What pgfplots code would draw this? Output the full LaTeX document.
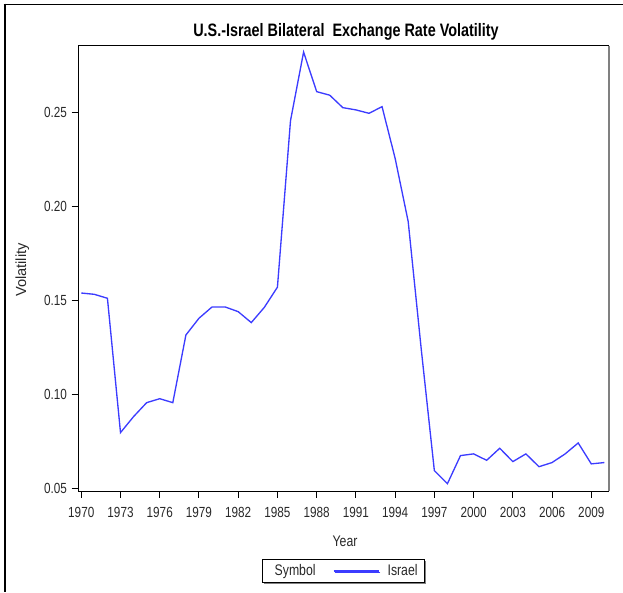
\documentclass[border=0pt]{standalone}
\usepackage{fontspec}
\setmainfont{Liberation Sans}[FakeStretch=0.8]
\newfontfamily\plainsans{Liberation Sans}
\usepackage{pgfplots}
\pgfplotsset{compat=1.18}
\usetikzlibrary{shadows}
\definecolor{lineblue}{RGB}{60,60,255}
\definecolor{txt}{RGB}{40,40,40}
\begin{document}
\begin{tikzpicture}[x=1pt,y=1pt]
\useasboundingbox (0,0) rectangle (467.25,444);
\draw[line width=0.8pt] (2.8,440.8) -- (467.25,440.8);
\draw[line width=1.5pt] (3.5,441.2) -- (3.5,0);
\node[anchor=base, font=\bfseries\fontsize{13.5}{15}\selectfont] at (259.5,416.5) {U.S.-Israel Bilateral\ \ Exchange Rate Volatility};
\node[rotate=90, anchor=center, text=txt, font=\plainsans\fontsize{11}{12}\selectfont] at (16.8,241.5) {Volatility};
\node[anchor=base, text=txt, font=\fontsize{11.5}{12}\selectfont] at (258.8,34.5) {Year};
\begin{axis}[
  at={(58.7pt,75.75pt)}, anchor=south west,
  scale only axis, width=397.8pt, height=334pt,
  xmin=1969.77, xmax=2010.33, ymin=0.0489, ymax=0.2853,
  xtick={1970,1973,1976,1979,1982,1985,1988,1991,1994,1997,2000,2003,2006,2009},
  ytick={0.05,0.10,0.15,0.20,0.25},
  xtick pos=left, ytick pos=left,
  tick align=outside, major tick length=4.9pt,
  tick style={black, line width=0.75pt},
  axis line style={black, line width=0.75pt},
  /pgf/number format/assume math mode=true,
  xticklabel style={/pgf/number format/1000 sep={}, text=txt, font=\fontsize{11}{12}\selectfont, yshift=-3.5pt},
  yticklabel style={/pgf/number format/fixed, /pgf/number format/fixed zerofill, /pgf/number format/precision=2, text=txt, font=\fontsize{11}{12}\selectfont},
  legend image code/.code={\draw[#1] (0pt,0pt) -- (34pt,0pt);},
  legend columns=2,
  legend style={at={(0.5,-0.152)}, anchor=north, draw=black, line width=0.75pt,
    font=\fontsize{11.5}{12}\selectfont, fill=white, text=txt,
    drop shadow={shadow xshift=1pt, shadow yshift=-1pt, fill=gray, opacity=1},
    /tikz/every even column/.append style={column sep=11pt},
    /tikz/every odd column/.append style={column sep=4pt}},
  after end axis/.code={\draw[gray, line width=1.5pt] (rel axis cs:1,0) -- (rel axis cs:1,1);},
]
\addlegendimage{empty legend}\addlegendentry{Symbol}
\addplot[lineblue, line width=1pt] coordinates {
(1970,0.1540) (1971,0.1533) (1972,0.1512) (1973,0.0799) (1974,0.0884)
(1975,0.0958) (1976,0.0979) (1977,0.0958) (1978,0.1317) (1979,0.1406)
(1980,0.1466) (1981,0.1466) (1982,0.1441) (1983,0.1383) (1984,0.1464)
(1985,0.1571) (1986,0.2455) (1987,0.2819) (1988,0.2609) (1989,0.2590)
(1990,0.2524) (1991,0.2512) (1992,0.2494) (1993,0.2529) (1994,0.2255)
(1995,0.1919) (1996,0.1240) (1997,0.0597) (1998,0.0528) (1999,0.0677)
(2000,0.0686) (2001,0.0652) (2002,0.0716) (2003,0.0645) (2004,0.0686)
(2005,0.0618) (2006,0.0640) (2007,0.0686) (2008,0.0744) (2009,0.0633)
(2010,0.0640)};
\addlegendentry{Israel}
\end{axis}
\end{tikzpicture}
\end{document}
